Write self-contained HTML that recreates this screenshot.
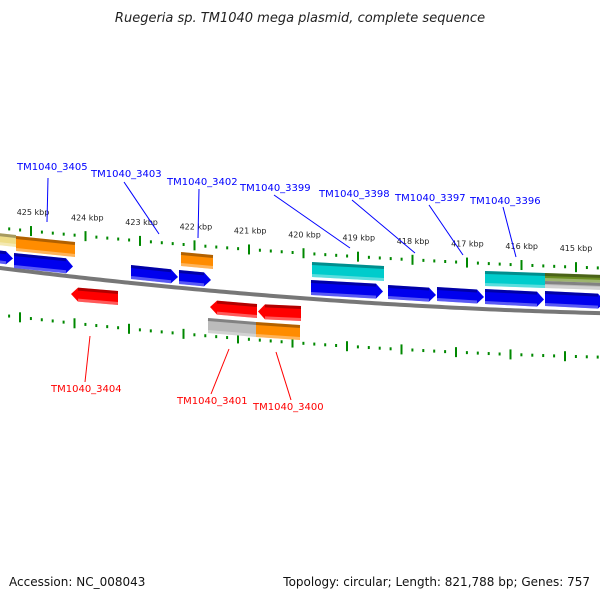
<!DOCTYPE html>
<html><head><meta charset="utf-8"><style>
html,body{margin:0;padding:0;background:#fff;}
svg{display:block;font-family:"DejaVu Sans","Liberation Sans",sans-serif;}
</style></head><body>
<svg id="s" width="600" height="600" viewBox="0 0 600 600" xmlns="http://www.w3.org/2000/svg">
<text x="300" y="22" text-anchor="middle" font-size="13" font-style="italic" fill="#222">Ruegeria sp. TM1040 mega plasmid, complete sequence</text>
<g id="ticks"></g>
<path id="bb" d="" stroke="#777" stroke-width="4" fill="none"/>
<g id="genes"></g>
<g font-size="8" fill="#222" id="kb"></g>
<g stroke="#00f" stroke-width="1">
<line x1="48" y1="178" x2="47" y2="222"/><line x1="124" y1="182" x2="159" y2="234"/>
<line x1="199" y1="189" x2="198" y2="238"/><line x1="274" y1="195" x2="350" y2="248"/>
<line x1="352" y1="200" x2="415" y2="253"/><line x1="429" y1="205" x2="463" y2="255"/>
<line x1="503" y1="207" x2="516" y2="257"/>
</g>
<g font-size="10" fill="#00f">
<text x="17" y="170">TM1040_3405</text><text x="91" y="177">TM1040_3403</text>
<text x="167" y="185">TM1040_3402</text><text x="240" y="191">TM1040_3399</text>
<text x="319" y="197">TM1040_3398</text><text x="395" y="201">TM1040_3397</text>
<text x="470" y="204">TM1040_3396</text>
</g>
<g stroke="#f00" stroke-width="1">
<line x1="90" y1="336" x2="85" y2="382"/><line x1="229" y1="349" x2="211" y2="394"/>
<line x1="276" y1="352" x2="291" y2="400"/>
</g>
<g font-size="10" fill="#f00">
<text x="51" y="392">TM1040_3404</text><text x="177" y="404">TM1040_3401</text>
<text x="253" y="410">TM1040_3400</text>
</g>
<text x="9" y="586" font-size="12" fill="#111">Accession: NC_008043</text>
<text x="590" y="586" font-size="12" fill="#111" text-anchor="end">Topology: circular; Length: 821,788 bp; Genes: 757</text>
</svg>
<script>
function up(x){return 228+0.1*x-5.56e-5*x*x;}
function bb(x){return 268+0.125*x-8.3e-5*x*x;}
function lo(x){return 315+0.117*x-7.8e-5*x*x;}
var d="M-5 "+bb(-5);for(var x=0;x<=605;x+=5)d+=" L"+x+" "+bb(x);
document.getElementById("bb").setAttribute("d",d);
var h="";
function tickRow(f,start){
 var step=54.5/5;
 for(var i=-6;i<60;i++){var x=start+i*step;if(x<-5||x>605)continue;
  var y=f(x);var maj=(i%5==0);
  h+='<line x1="'+x+'" y1="'+(y-(maj?5:1.5))+'" x2="'+x+'" y2="'+(y+(maj?5:1.5))+'" stroke="#080" stroke-width="2"/>';}
}
tickRow(up,31);tickRow(lo,20);
document.getElementById("ticks").innerHTML=h;
var kb="",labs=[425,424,423,422,421,420,419,418,417,416,415];
for(var i=0;i<11;i++){var x=33+i*54.3;kb+='<text x="'+x+'" y="'+(up(x)-16)+'" text-anchor="middle">'+labs[i]+' kbp</text>';}
document.getElementById("kb").innerHTML=kb;
// x1,x2,ytop1,ytop2,h,color,arrow
var G=[
[-2,16,233,235,12,"#eedd88",0],[16,75,236,242,15,"#ff8c00",0],
[-5,13,250,252,13,"#0000ee",1],[14,73,253,259,15,"#0000ee",1],
[131,178,265,270,14,"#0000ee",1],[179,211,270,273,14,"#0000ee",1],
[181,213,252,255,14,"#ff8c00",0],
[312,384,262,266,15,"#00cccc",0],[311,383,280,284,15,"#0000ee",1],
[388,436,285,288,14,"#0000ee",1],[437,484,287,290,14,"#0000ee",1],
[485,544,289,292,15,"#0000ee",1],[545,605,291,294,15,"#0000ee",1],
[485,545,271,273,15,"#00cccc",0],[545,605,273,275,8,"#6b8e23",0],[545,605,281,283,7,"#bbbbbb",0],
[71,118,287,291,14,"#ff0000",-1],[210,257,300,304,14,"#ff0000",-1],[258,301,304,306,15,"#ff0000",-1],
[208,256,318,322,15,"#bbbbbb",0],[256,300,322,325,15,"#ff8c00",0]];
var s="";
G.forEach(function(a){var x1=a[0],x2=a[1],y1=a[2],y2=a[3],hh=a[4],ar=a[6];
 function f(x){return y1+(y2-y1)*(x-x1)/(x2-x1);}
 var p;
 if(ar==1){var xa=x2-7,ya=f(xa);p=[[x1,y1],[xa,ya],[x2,y2+hh/2],[xa,ya+hh],[x1,y1+hh]];}
 else if(ar==-1){var xa=x1+7,ya=f(xa);p=[[x1,y1+hh/2],[xa,ya],[x2,y2],[x2,y2+hh],[xa,ya+hh]];}
 else p=[[x1,y1],[x2,y2],[x2,y2+hh],[x1,y1+hh]];
 s+='<polygon points="'+p.map(function(q){return q.join(",")}).join(" ")+'" fill="'+a[5]+'"/>';
 var xs=x1+(ar==-1?7:0),xe=x2-(ar==1?7:0);
 s+='<line x1="'+xs+'" y1="'+(f(xs)+1.5)+'" x2="'+xe+'" y2="'+(f(xe)+1.5)+'" stroke="rgba(0,0,0,0.3)" stroke-width="3"/>';
 s+='<line x1="'+xs+'" y1="'+(f(xs)+hh-1.5)+'" x2="'+xe+'" y2="'+(f(xe)+hh-1.5)+'" stroke="rgba(255,255,255,0.35)" stroke-width="3"/>';
});
document.getElementById("genes").innerHTML=s;
</script>
</body></html>
